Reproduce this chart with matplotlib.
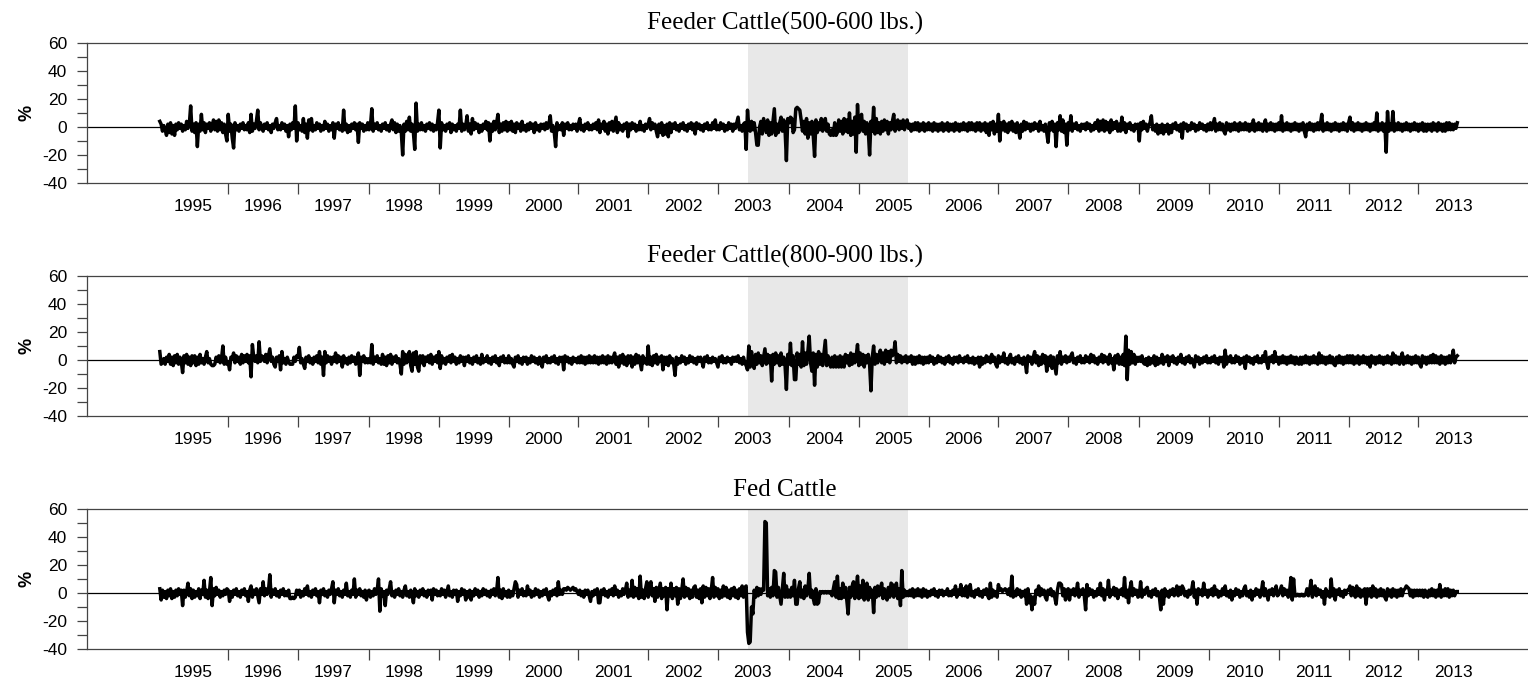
import numpy as np
import matplotlib.pyplot as plt

plt.rcParams["axes.unicode_minus"] = False

years = list(range(1995, 2014))

# weekly price change (%), one string per year, quarters split by "|"
feeder_500_600 = [
    "4 2 -3 1 -2 -6 2 -4 3 -5 1 -6 2 | -2 3 -1 2 -3 1 -2 4 -1 2 15 -3 2 | -4 3 -14 2 -3 9 -2 3 -4 2 -1 3 -3 | 1 5 -2 4 -3 5 -2 3 -4 2 -5 -10",
    "9 -3 2 -8 -15 3 -2 1 -3 2 -1 3 -2 | 1 -2 3 -4 9 -3 2 -1 4 12 -2 3 -1 | -3 2 -1 3 -2 1 -4 2 -1 3 6 -2 1 | -2 3 -1 2 -3 1 -7 2 -2 3 -1 15 -10",
    "3 -2 1 -3 6 -4 2 -8 5 -2 6 -3 1 | -2 3 -1 2 -3 1 -2 4 -1 2 -3 1 -2 | 3 -8 2 -1 3 -2 1 -3 12 -2 2 -4 1 | -3 2 -1 3 -2 2 -11 3 -1 2 -3 1 -2 3",
    "-2 1 13 -3 2 -1 3 -2 1 -3 2 -1 3 | -2 1 -3 2 5 -2 3 -4 2 -3 1 -4 -20 | 2 -3 4 -2 7 -3 2 -4 -16 17 -3 2 -2 | 3 -2 1 -3 2 -1 3 -2 2 -3 1 -2 3",
    "12 -15 3 -2 1 -3 2 -1 3 -4 2 -2 1 | -3 2 -1 12 -3 2 -2 1 8 -3 2 -5 6 | -2 3 -1 2 -4 1 -3 2 -1 4 -2 3 -10 | 2 -3 4 -2 3 9 -4 2 -3 3 -2 4 -3",
    "3 -2 4 -3 2 -4 3 -1 2 -3 4 -2 1 | -3 2 -2 3 -1 2 -4 3 -2 1 -3 2 -1 | 2 -2 3 -1 2 8 -3 1 -4 -14 3 -2 1 | -2 3 -6 2 -1 3 -2 1 -2 2 -1 2 -3",
    "2 6 -2 1 -3 2 -1 3 -2 1 -2 2 -1 | 3 -2 5 -4 2 -1 4 -3 2 -5 3 -2 4 | -3 2 7 -4 3 -2 1 -3 2 -1 3 -7 2 | -2 3 -1 2 -3 1 -2 4 -2 1 -3 2 -1",
    "2 6 -2 3 -1 2 -3 -7 2 -4 3 -6 1 | -5 2 -7 3 -4 2 -1 3 -2 1 -3 2 -1 | 3 -2 1 -3 2 -1 3 -2 2 -5 3 -1 2 | -2 1 -3 2 -1 3 -2 1 -2 3 -1 5 -2",
    "1 -2 3 -1 2 -3 1 -2 3 -1 2 -3 2 | -1 3 7 -2 1 -3 2 3 -16 12 0 -3 4 | -2 3 -4 -13 -13 0 4 -5 6 1 -4 5 -6 | 3 -5 4 13 -6 2 -4 3 7 -3 5 -2 -24 6",
    "3 7 6 -4 -2 13 14 13 12 5 -3 4 -5 | 6 -8 3 -5 4 -6 -21 5 -4 3 -2 6 -3 | 4 6 -3 2 -5 -6 -2 -6 3 -6 -4 5 -3 | 4 -5 6 -3 5 -4 10 -6 4 -5 7 -18 16",
    "-4 5 9 -3 4 -5 3 -2 -20 4 -3 14 -5 | 6 -4 3 -5 4 -3 5 -2 4 -5 3 -2 4 | 9 -3 2 5 -2 4 -1 5 -2 3 5 -1 2 | -3 2 -2 3 -2 3 -3 2 -2 3 -3 2 -2",
    "3 -2 2 -3 3 -2 2 -3 2 -2 3 -3 2 | -2 3 -3 2 -2 2 -3 3 -2 2 -3 2 -2 | 3 -2 2 -3 3 -2 3 -2 2 -3 3 -2 3 | -3 2 -2 3 -4 2 -6 3 -2 4 -5 2 -3",
    "9 -10 3 -2 4 -3 2 -4 3 -2 4 -3 2 | -4 3 -2 -8 2 -3 4 -2 3 -1 2 -3 2 | -2 3 -1 2 -3 4 -2 1 -3 2 -4 -11 3 | -2 4 -3 2 -14 3 -2 8 -3 5 -4 2 -13",
    "3 -2 8 -3 2 -1 3 -2 1 -3 2 -1 2 | -2 3 -1 2 -3 1 -2 3 -1 5 -3 4 -2 | 5 -3 4 -2 3 -4 5 -2 3 -1 4 -3 2 | -3 7 -2 3 -4 2 -1 3 -2 1 -3 2 -1 2",
    "-10 3 -2 4 -1 2 -3 1 3 8 -2 1 -3 | 2 -5 1 -4 2 -5 1 -3 2 -5 1 -4 2 | -1 3 -2 1 -3 2 -8 3 -1 2 -3 1 -2 | 3 -1 2 -3 1 -2 3 -1 2 -2 1 -3 2",
    "-2 3 -2 2 6 -3 2 -2 3 -2 2 -3 -5 | 3 -2 2 -3 2 -2 3 -2 2 -3 3 -2 2 | -2 3 -2 2 -3 2 -2 5 -3 2 -2 3 -2 | 2 -3 2 5 -3 2 -2 3 -2 2 -3 2 -2",
    "3 -2 8 -3 2 -2 3 -2 2 -3 2 -2 3 | -2 2 -3 2 -2 3 -3 -7 2 -2 3 -2 2 | -3 2 -2 3 -2 2 9 -3 2 -2 3 -2 2 | -3 2 -2 3 -2 2 -3 2 -2 3 -2 2 -3",
    "3 7 -2 3 -3 2 -2 3 -2 2 -3 2 -2 | 3 -2 2 -3 2 -2 3 -2 10 -3 2 -2 3 | -3 2 -18 11 -3 2 -2 11 -3 2 -2 3 -2 | 2 -3 2 -2 3 -2 2 -3 2 -2 3 -2 2",
    "-3 2 -2 3 -3 2 -3 2 -2 2 -3 3 -2 | 2 -3 3 -2 2 -3 2 -3 3 -2 3 -2 2 | -2 2 -1 3",
]

feeder_800_900 = [
    "6 -3 -2 1 -3 2 -1 4 -3 2 -4 3 -2 | 4 -3 2 -1 -9 3 -2 4 -3 2 -4 3 -2 | 3 -4 2 -3 4 -2 1 -3 2 6 -2 1 -3 | -4 -4 -3 2 -1 3 -2 1 10 -3 2 -3",
    "-2 -7 2 1 5 -2 3 -1 2 -3 4 -2 3 | -1 4 -2 3 -12 11 2 -1 3 -2 13 -1 3 | 2 -1 4 -2 3 8 -1 2 -3 -5 2 -1 3 | -7 6 -2 1 -3 2 -1 -3 -3 -3 2 -1 3",
    "2 9 -2 1 -3 -6 2 -1 3 -2 1 -3 2 | -1 3 -2 6 -3 2 -11 6 -2 3 -1 2 -3 | 2 -1 5 -2 3 -1 2 -5 3 -2 1 -3 2 | -2 3 -1 2 -3 1 5 -11 2 -1 3 -2 1 -2",
    "1 -2 11 -3 2 -1 3 -2 1 -3 4 -3 2 | -4 3 -2 4 -3 2 -1 3 -2 1 -3 -10 6 | -3 4 -2 3 6 -4 -8 5 -3 6 -5 -8 3 | -2 3 -4 2 -1 3 -2 4 -3 2 -1 3 -2",
    "6 -6 3 -2 1 -3 2 -1 3 -2 4 -1 2 | -3 1 -2 3 -1 2 -4 2 -1 3 -2 1 -3 | 2 -1 3 -2 1 -3 4 -2 1 -1 3 -2 1 | -3 2 -1 3 -2 1 -4 2 -1 3 -2 1 -2",
    "3 -2 1 -3 -5 2 -1 3 -2 1 -3 2 -1 | 2 -3 1 -2 3 -1 2 -2 1 -3 2 -1 -5 | 2 -1 3 -2 1 -2 2 -1 3 -2 1 -3 2 | -1 2 -7 3 -1 2 -2 1 -3 2 -1 1 -2",
    "2 -2 3 -2 2 -3 2 -2 3 -2 2 -2 3 | -2 2 -3 2 -2 3 -2 2 -3 3 -2 2 -2 | 2 5 -3 2 -5 3 -2 4 -3 2 -4 3 -2 | 3 -5 2 -3 4 -2 3 -2 -7 3 -2 1 -3",
    "10 -3 2 -4 3 -2 4 -3 2 -1 3 -7 2 | -3 2 -4 3 -2 1 -3 -11 2 -3 1 -2 3 | -1 2 -3 1 -2 3 -1 2 -2 1 -3 2 -1 | 2 -1 -5 2 -1 3 -2 1 -2 2 -1 1 -2",
    "-5 2 -1 3 -2 1 -2 2 -1 1 -3 2 -1 | 2 -1 3 -2 1 -3 2 -2 -4 -7 10 -5 6 | -3 -6 4 -3 5 -2 3 -4 2 8 -3 4 -2 | 3 -15 4 -3 5 -2 3 -4 5 -3 2 -4 -21 4",
    "-3 12 -4 3 -14 -14 5 -3 4 -5 13 -4 5 | -3 6 17 -2 -8 5 -18 4 -5 6 -3 4 -4 | 5 14 -4 3 -2 -5 2 -5 3 -5 2 -5 3 | -5 2 -5 4 -2 3 -4 5 -3 4 -2 3 11",
    "-4 5 -3 4 -5 3 -2 4 -3 -22 2 10 -3 | 4 -2 3 7 -2 5 -3 7 -1 6 -2 7 3 | 5 13 -2 4 -1 3 -2 2 -1 3 -2 2 -1 | 3 -3 2 -3 2 -2 3 -2 2 -3 2 -2 2",
    "-2 3 -1 2 -3 1 -2 3 -1 2 -2 1 -3 | 2 -1 3 -2 1 -3 2 -1 2 -2 3 -1 1 | -2 2 -1 3 -2 1 -2 2 -3 1 -2 2 -5 | 2 -3 1 -2 3 -1 2 -2 4 -1 2 -3 -5",
    "3 -2 2 -1 5 -2 1 -3 2 4 -2 1 -3 | 2 -1 3 -2 1 -3 2 -2 -9 3 -1 2 -3 | 2 6 -2 3 -4 2 -3 4 -2 3 -8 2 -4 | 3 -6 2 -4 -10 3 -2 6 -3 2 -1 3 -2",
    "2 -1 3 5 -2 1 -3 2 -1 3 -2 1 -2 | 3 -1 2 -2 4 -1 3 -2 1 -3 2 -1 4 | -2 3 -1 2 -3 4 -2 1 -7 3 -2 4 -3 | 2 -3 4 -4 17 -14 7 -3 6 -2 4 -3 2 -1",
    "2 -1 3 -2 -3 1 -4 2 -3 1 -2 3 -4 | 2 -3 1 -2 4 -3 2 -1 3 -4 2 -1 3 | -2 1 -3 2 -1 4 -2 1 -3 2 -1 3 -2 | 1 -2 -5 3 -1 2 -3 1 -2 2 -1 3 -2",
    "1 -2 2 -1 3 -2 1 -3 2 -1 2 -5 7 | -3 2 -1 3 -2 1 -2 3 -1 2 -3 1 -2 | 2 -6 3 -1 2 -2 1 -3 2 -1 3 -2 1 | -2 3 -1 6 -2 -6 2 -1 3 -2 6 -1 2",
    "-3 2 -2 3 -2 2 -3 2 -2 3 -2 2 -3 | 2 -2 -3 2 -3 2 -2 3 -2 2 -3 2 -2 | 3 -2 2 -3 5 -2 3 -2 2 -3 2 -2 3 | -2 2 -3 -4 2 -2 3 -2 2 -3 2 -2 3",
    "-2 3 -2 3 -3 2 -2 3 -3 2 -2 3 -2 | 2 -3 2 -5 3 -2 2 -3 2 -2 3 -2 2 | -3 2 -2 3 -2 2 -3 5 -2 3 -2 2 -3 | 2 5 -3 2 -2 3 -2 2 -3 2 -2 3 -2",
    "2 -3 -5 3 -2 2 -3 2 -2 3 -2 4 -2 | 3 -2 2 -3 3 -2 2 -3 2 -2 3 -2 2 | 7 -2 2 3",
]

fed_cattle = [
    "3 -5 2 -3 1 -4 2 -2 3 -4 1 -3 2 | -2 3 -1 2 -9 2 -3 1 7 -2 3 -4 2 | -3 1 -2 3 -4 2 -1 9 -3 2 -4 1 11 | -9 3 -2 4 -1 2 -3 1 -2 2 -1 3",
    "2 -6 1 -3 2 -1 3 -2 1 -3 2 -1 3 | -2 1 -6 2 5 -3 2 -1 3 -2 -7 3 -1 | 8 -2 3 -1 2 13 -3 2 -1 3 -2 1 -3 | 2 -1 3 -2 1 -2 2 -4 -4 -3 -4 -3 2",
    "-1 2 -3 1 -2 3 -1 5 -2 1 -3 2 -1 | 3 -2 1 -7 2 -1 3 -2 1 -3 2 -1 3 | 8 -7 2 -1 3 -2 1 -3 2 -1 7 -2 1 | -3 2 -1 10 -3 2 -1 3 -2 1 -3 2 -5 1",
    "2 -3 1 -2 3 -1 2 10 -13 3 -2 1 -9 | 2 -1 3 8 -2 1 -3 2 -1 3 -2 1 -3 | 2 5 -2 1 -3 2 -1 -7 3 -2 1 -3 2 | -1 3 -2 1 -3 2 -1 2 -5 3 -1 2 -2",
    "1 -2 3 -1 2 -3 1 5 -2 1 -3 2 -1 | 2 -6 1 -2 3 -1 2 -5 1 -3 2 -5 1 | -2 3 -1 2 -3 1 -2 3 -1 2 -2 1 -3 | 2 -1 3 -2 1 11 -3 2 -4 3 -2 1 -3",
    "2 -3 1 -2 3 8 6 -3 2 -1 3 -2 1 | -2 5 -1 2 -3 1 -2 3 -1 2 -3 1 -2 | 2 -1 3 -2 -5 1 -2 2 -1 3 -2 8 -1 | 2 -1 3 3 2 4 3 2 3 4 2 3 1",
    "-1 2 -2 1 -3 2 -1 2 -2 -6 1 -2 2 | -1 3 -7 -7 2 -1 3 -2 1 -3 2 -1 3 | -2 5 -1 2 -3 1 -2 3 -1 2 7 -3 2 | -2 9 -3 4 -2 3 -4 12 -3 2 -4 3 8",
    "-3 4 8 -2 3 -6 4 -3 2 7 -4 3 -2 | 4 -12 3 -2 7 -4 3 -2 4 -8 3 -4 2 | 10 -3 4 -2 3 -4 2 -3 4 5 -3 2 -4 | 3 -7 5 -3 4 -2 3 -4 2 11 -3 4 -2",
    "3 -4 2 -3 5 -2 4 -3 2 -4 3 -2 4 | -3 2 -4 3 -2 5 -3 4 5 -28 -36 -35 -10 | -15 2 -3 4 -2 3 -1 3 2 51 50 -2 3 | -3 4 -2 16 15 -3 4 -2 -8 3 14 -3 5 -3",
    "2 -3 4 -2 9 -8 -8 3 8 -3 2 -4 5 | -2 3 14 -3 2 -4 -8 3 -8 -7 1 0 1 | 0 1 0 1 0 1 -2 3 8 -3 12 -4 3 | -4 7 -3 4 -5 -15 4 -3 5 8 -4 3 12",
    "-4 5 -3 9 -5 3 7 -5 4 -3 2 -14 4 | -3 5 -2 3 7 -4 3 -2 -5 4 -3 7 6 | -3 4 7 -4 3 -9 16 -3 2 -2 1 -2 2 | -2 3 -3 2 -2 3 -2 2 -3 3 -2 2 -3",
    "1 -2 2 -1 3 -2 1 -3 2 -1 2 -2 1 | -1 3 -2 1 -2 2 -1 5 -3 2 -1 6 -2 | 3 -2 5 -3 2 6 -2 1 -3 2 -1 3 -2 | 1 -3 2 -1 3 -2 -4 7 -3 2 -2 1 -3",
    "6 2 3 1 2 3 2 -1 3 -2 12 -3 1 | -2 3 -1 2 -3 1 -2 2 -8 3 -7 -2 -12 | -3 -8 2 -1 5 -2 3 -1 2 -3 -5 2 -1 | 3 -2 1 -3 -8 2 7 7 6 -2 3 -5 2",
    "3 -5 2 -1 3 -2 1 7 -3 2 -1 3 -2 | -12 6 -2 3 -1 2 -3 1 -2 3 -1 7 -2 | 3 -5 2 -1 9 -3 2 -1 4 -2 3 -4 2 | -1 3 -2 11 -3 2 -7 3 8 -2 3 -1 2 -3",
    "-2 8 -3 2 -1 3 4 -2 1 -3 2 -1 3 | -2 1 -3 -12 2 -8 3 -2 1 -3 2 -1 3 | -2 1 5 -2 4 -1 5 3 -2 1 -3 2 -1 | 2 8 -3 2 -8 3 -1 2 -2 7 -1 2 -3",
    "2 -1 3 -2 5 -1 2 -3 1 -2 3 -1 5 | -2 1 -3 2 -5 1 -2 3 -1 2 -3 1 -2 | 3 5 -2 1 -3 2 -5 1 -2 3 -1 2 -3 | 1 8 -2 3 -1 -5 2 -1 3 -2 1 5 -2",
    "-1 2 5 -2 3 -1 2 -3 1 11 -5 10 -2 | -2 -1 -2 -2 -1 -2 -2 -1 3 -2 2 9 -3 | 2 5 -2 3 -1 2 -3 1 -8 3 -2 1 -3 | 10 -2 3 -5 2 -1 3 -2 1 -3 2 -1 2",
    "2 5 -2 4 2 -3 5 -2 3 -3 2 -2 3 | -8 3 -2 3 -3 5 -2 3 -3 2 -2 3 -2 | 2 -3 -5 3 -2 2 -3 3 -2 2 -3 2 -2 | 3 -2 2 3 5 4 3 -2 2 -3 2 -2 2",
    "-2 2 -2 2 -3 2 -2 -3 2 -2 3 -2 2 | -3 2 -2 6 -3 2 -2 3 -2 3 -3 2 -2 | 2 -2 1 1",
]

titles = ["Feeder Cattle(500-600 lbs.)", "Feeder Cattle(800-900 lbs.)", "Fed Cattle"]

# shaded period, (year, weeks into that year)
shade_from = (2003, 22.3)
shade_to = (2005, 36.4)


def parse(rows):
    return [[float(v) for v in r.replace("|", " ").split()] for r in rows]


series = [parse(s) for s in (feeder_500_600, feeder_800_900, fed_cattle)]

# week index where each year starts
year_len = [len(r) for r in series[0]]
year_start = dict(zip(years, np.concatenate([[0], np.cumsum(year_len)[:-1]])))

fig = plt.figure(figsize=(15.28, 6.84), dpi=100)
bottoms = [0.7325, 0.3918, 0.0512]

for i, (rows, title) in enumerate(zip(series, titles)):
    y = np.concatenate(rows)
    x = np.arange(len(y))

    ax = fig.add_axes([0.0569, bottoms[i], 0.9431, 0.2047])
    ax.axvspan(year_start[shade_from[0]] + shade_from[1],
               year_start[shade_to[0]] + shade_to[1],
               color="#e8e8e8", lw=0, zorder=0)
    ax.axhline(0, color="k", lw=0.9, zorder=1)
    ax.plot(x, y, color="k", lw=2.5, zorder=2)

    ax.set_xlim(-54.3, 1019.7)
    ax.set_ylim(-40, 60)

    ax.set_yticks(np.arange(-40, 61, 20))
    ax.set_yticks(np.arange(-30, 51, 20), minor=True)
    ax.tick_params(axis="y", which="both", direction="out", length=7.2,
                   width=0.9, color="#444", pad=7, labelsize=12.5)

    # year boundaries as ticks, labels centred on each year
    ax.set_xticks([year_start[yr] for yr in years[1:]])
    ax.set_xticklabels([])
    ax.set_xticks([year_start[yr] + 26 if yr > 1995 else year_start[1996] - 26
                   for yr in years], minor=True)
    ax.set_xticklabels([str(yr) for yr in years], minor=True)
    ax.tick_params(axis="x", which="major", direction="out", length=7.7,
                   width=0.9, color="#444")
    ax.tick_params(axis="x", which="minor", length=0, pad=11.5, labelsize=12.5)

    for lab in ax.get_xticklabels(minor=True) + ax.get_yticklabels():
        lab.set_fontfamily("Liberation Sans")

    for side in ["left", "top", "bottom"]:
        ax.spines[side].set_color("#444")
        ax.spines[side].set_linewidth(0.9)
    ax.spines["right"].set_visible(False)

    ax.set_ylabel("%", fontsize=13, fontweight="bold", family="Liberation Sans")
    ax.yaxis.set_label_coords(-0.036, 0.5)
    ax.set_title(title, x=0.4844, pad=9.4, fontsize=18, family="Liberation Serif")

fig.savefig("out.png", dpi=100)
